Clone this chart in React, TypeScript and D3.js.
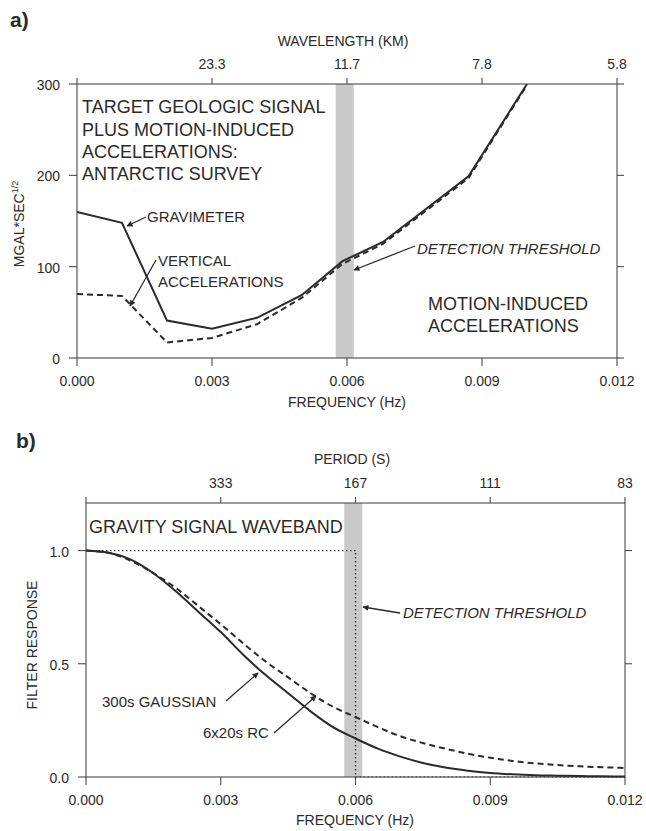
import React from "react";
import * as d3 from "d3";

// Panel a: noise spectra (mGal·s^1/2) versus frequency
const spectrumFreq = [0, 0.001, 0.002, 0.003, 0.004, 0.005, 0.0059, 0.0068, 0.0087, 0.01];
const gravimeter = [160, 148, 41, 32, 44, 69, 106, 127, 199, 300];
const verticalAcc = [70, 68, 17, 22, 37, 66, 103, 125, 197, 299];

// Panel b: filter responses versus frequency
const responseFreq = [
  0, 0.0005, 0.001, 0.0015, 0.002, 0.0025, 0.003, 0.0035, 0.004, 0.0045, 0.005, 0.0055,
  0.006, 0.0065, 0.007, 0.0075, 0.008, 0.0085, 0.009, 0.0095, 0.01, 0.0105, 0.011, 0.0115, 0.012,
];
const gaussian300 = [
  1.0, 0.99, 0.96, 0.9, 0.82, 0.73, 0.64, 0.54, 0.45, 0.37, 0.29, 0.22,
  0.17, 0.125, 0.09, 0.062, 0.042, 0.028, 0.018, 0.012, 0.008, 0.006, 0.004, 0.003, 0.002,
];
const rc6x20 = [
  1.0, 0.99, 0.955, 0.9, 0.835, 0.755, 0.675, 0.59, 0.51, 0.44, 0.37, 0.31,
  0.265, 0.22, 0.18, 0.15, 0.125, 0.103, 0.085, 0.071, 0.06, 0.053, 0.047, 0.043, 0.04,
];
const idealFreq = [0, 0.006, 0.006, 0.012];
const idealResp = [1, 1, 0, 0];

// Detection threshold band
const bandLo = 0.00575;
const bandHi = 0.00615;

// Axis ticks
const freqTicks = [0, 0.003, 0.006, 0.009, 0.012];
const topTickFreq = [0.003, 0.006, 0.009, 0.012];
const wavelengthLabels = ["23.3", "11.7", "7.8", "5.8"];
const periodLabels = ["333", "167", "111", "83"];
const mgalTicks = [0, 100, 200, 300];
const respTicks = [0, 0.5, 1.0];

const FONT = "'Liberation Sans', Arial, Helvetica, sans-serif";
const INK = "#2a2a2a";
const AXIS = "#4a4a4a";

type Scale = d3.ScaleLinear<number, number>;

function Frame({ x, y, yTicks, yFmt, rightTicks, topLabels }: {
  x: Scale; y: Scale; yTicks: number[]; yFmt: (v: number) => string;
  rightTicks: number[]; topLabels: string[];
}) {
  const [x0, x1] = x.range();
  const [y0, y1] = y.range();
  return (
    <g fontFamily={FONT} fill={INK}>
      <rect x={x0} y={y1} width={x1 - x0} height={y0 - y1} fill="none" stroke={AXIS} strokeWidth={1.1} />
      {freqTicks.map((t) => (
        <g key={"b" + t}>
          <line x1={x(t)} x2={x(t)} y1={y0} y2={y0 + 8} stroke={AXIS} strokeWidth={1.1} />
          <text x={x(t)} y={y0 + 28} textAnchor="middle" fontSize={14}>{t.toFixed(3)}</text>
        </g>
      ))}
      <line x1={x0} x2={x0} y1={y1} y2={y1 - 6} stroke={AXIS} strokeWidth={1.1} />
      {topTickFreq.map((t, i) => (
        <g key={"t" + t}>
          <line x1={x(t)} x2={x(t)} y1={y1} y2={y1 - 6} stroke={AXIS} strokeWidth={1.1} />
          <text x={x(t)} y={y1 - 15} textAnchor="middle" fontSize={14}>{topLabels[i]}</text>
        </g>
      ))}
      {yTicks.map((t) => (
        <g key={"l" + t}>
          <line x1={x0 - 8} x2={x0} y1={y(t)} y2={y(t)} stroke={AXIS} strokeWidth={1.1} />
          <text x={x0 - 17} y={y(t) + 6} textAnchor="end" fontSize={14}>{yFmt(t)}</text>
        </g>
      ))}
      {rightTicks.map((t) => (
        <line key={"r" + t} x1={x1} x2={x1 + 7} y1={y(t)} y2={y(t)} stroke={AXIS} strokeWidth={1.1} />
      ))}
    </g>
  );
}

function Arrow({ x1, y1, x2, y2 }: { x1: number; y1: number; x2: number; y2: number }) {
  return <line x1={x1} y1={y1} x2={x2} y2={y2} stroke={INK} strokeWidth={1.3} markerEnd="url(#arrowhead)" />;
}

export default function App() {
  // Panel a scales
  const xa = d3.scaleLinear().domain([0, 0.012]).range([77, 617]);
  const ya = d3.scaleLinear().domain([0, 300]).range([358, 84]);
  // Panel b scales
  const xb = d3.scaleLinear().domain([0, 0.012]).range([86, 625]);
  const yb = d3.scaleLinear().domain([0, 1.21]).range([777, 503]);

  const lineA = (vals: number[]) =>
    d3.line<number>().x((_, i) => xa(spectrumFreq[i])).y((v) => ya(v))(vals) || "";
  const lineB = (vals: number[]) =>
    d3.line<number>().curve(d3.curveMonotoneX).x((_, i) => xb(responseFreq[i])).y((v) => yb(v))(vals) || "";
  const idealPath =
    d3.line<number>().x((_, i) => xb(idealFreq[i])).y((v) => yb(v))(idealResp) || "";

  return (
    <svg width={646} height={831} viewBox="0 0 646 831" style={{ display: "block", position: "absolute", left: 0, top: 0, background: "#fff" }}>
      <defs>
        <marker id="arrowhead" viewBox="0 0 10 10" refX="9" refY="5" markerWidth="7" markerHeight="6" orient="auto" markerUnits="userSpaceOnUse">
          <path d="M0,0 L10,5 L0,10 z" fill={INK} />
        </marker>
        <clipPath id="clipA">
          <rect x={77} y={84} width={540} height={274} />
        </clipPath>
      </defs>
      <rect width={646} height={831} fill="#fff" />

      {/* ---------- panel a ---------- */}
      <text x={10} y={27} fontFamily={FONT} fontSize={21} fontWeight="bold" fill={INK}>a)</text>
      <rect x={xa(bandLo)} y={ya(300)} width={xa(bandHi) - xa(bandLo)} height={ya(0) - ya(300)} fill="#c9c9c9" />
      <Frame x={xa} y={ya} yTicks={mgalTicks} yFmt={(v) => String(v)} rightTicks={mgalTicks} topLabels={wavelengthLabels} />
      <text x={343} y={46} textAnchor="middle" fontFamily={FONT} fontSize={14} fill={INK}>WAVELENGTH (KM)</text>
      <text x={347} y={407} textAnchor="middle" fontFamily={FONT} fontSize={14} fill={INK}>FREQUENCY (Hz)</text>
      <text transform="translate(24,224) rotate(-90)" textAnchor="middle" fontFamily={FONT} fontSize={14} fill={INK}>
        MGAL*SEC<tspan fontSize={9} dy={-6}>1/2</tspan>
      </text>
      <g clipPath="url(#clipA)">
        <path d={lineA(verticalAcc)} fill="none" stroke={INK} strokeWidth={2} strokeDasharray="6,4" />
        <path d={lineA(gravimeter)} fill="none" stroke={INK} strokeWidth={2} />
      </g>
      <g fontFamily={FONT} fill={INK}>
        <text x={82} y={113} fontSize={18}>TARGET GEOLOGIC SIGNAL</text>
        <text x={82} y={136} fontSize={18}>PLUS MOTION-INDUCED</text>
        <text x={82} y={158} fontSize={18}>ACCELERATIONS:</text>
        <text x={82} y={180} fontSize={18}>ANTARCTIC SURVEY</text>
        <text x={147} y={222} fontSize={15}>GRAVIMETER</text>
        <text x={158} y={266} fontSize={15}>VERTICAL</text>
        <text x={158} y={287} fontSize={15}>ACCELERATIONS</text>
        <text x={417} y={254} fontSize={15} fontStyle="italic">DETECTION THRESHOLD</text>
        <text x={428} y={310} fontSize={18}>MOTION-INDUCED</text>
        <text x={428} y={332} fontSize={18}>ACCELERATIONS</text>
      </g>
      <Arrow x1={146} y1={217} x2={127} y2={226} />
      <Arrow x1={156} y1={260} x2={130} y2={306} />
      <Arrow x1={415} y1={246} x2={354} y2={270} />

      {/* ---------- panel b ---------- */}
      <text x={16} y={448} fontFamily={FONT} fontSize={21} fontWeight="bold" fill={INK}>b)</text>
      <rect x={xb(bandLo)} y={yb(1.21)} width={xb(bandHi) - xb(bandLo)} height={yb(0) - yb(1.21)} fill="#c9c9c9" />
      <Frame x={xb} y={yb} yTicks={respTicks} yFmt={(v) => v.toFixed(1)} rightTicks={[0.5, 1.0]} topLabels={periodLabels} />
      <text x={352} y={464} textAnchor="middle" fontFamily={FONT} fontSize={14} fill={INK}>PERIOD (S)</text>
      <text x={355} y={825} textAnchor="middle" fontFamily={FONT} fontSize={14} fill={INK}>FREQUENCY (Hz)</text>
      <text transform="translate(37,645) rotate(-90)" textAnchor="middle" fontFamily={FONT} fontSize={14} fill={INK}>FILTER RESPONSE</text>
      <path d={idealPath} fill="none" stroke={INK} strokeWidth={1.2} strokeDasharray="1.5,2.5" />
      <path d={lineB(rc6x20)} fill="none" stroke={INK} strokeWidth={2} strokeDasharray="6,4" />
      <path d={lineB(gaussian300)} fill="none" stroke={INK} strokeWidth={2} />
      <g fontFamily={FONT} fill={INK}>
        <text x={89} y={533} fontSize={18}>GRAVITY SIGNAL WAVEBAND</text>
        <text x={403} y={618} fontSize={15} fontStyle="italic">DETECTION THRESHOLD</text>
        <text x={102} y={707} fontSize={15}>300s GAUSSIAN</text>
        <text x={203} y={738} fontSize={15}>6x20s RC</text>
      </g>
      <Arrow x1={400} y1={613} x2={363} y2={607} />
      <Arrow x1={226} y1={701} x2={258} y2={673} />
      <Arrow x1={274} y1={733} x2={316} y2={696} />
    </svg>
  );
}
